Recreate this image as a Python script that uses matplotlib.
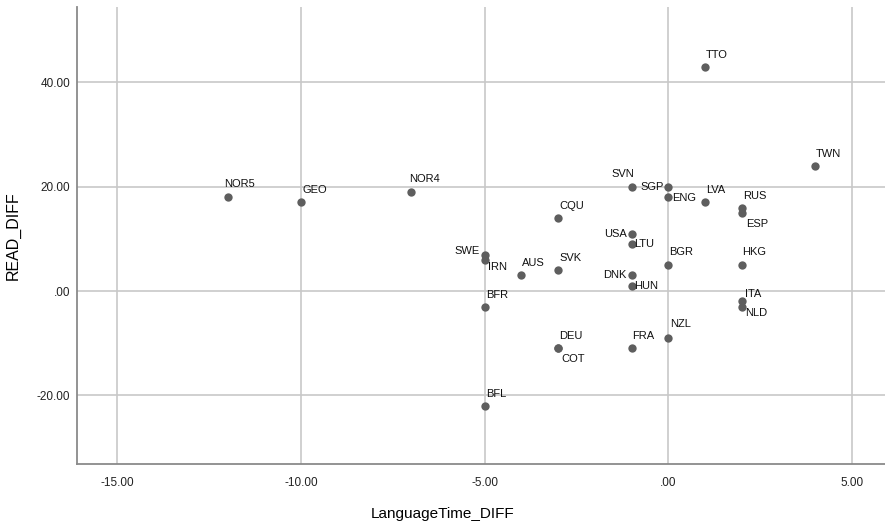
import matplotlib
matplotlib.use("Agg")
import matplotlib.pyplot as plt

plt.rcParams['font.family'] = ['Liberation Sans', 'DejaVu Sans']

# data
countries = ['NOR5', 'GEO', 'NOR4', 'TTO', 'TWN', 'SVN', 'SGP', 'ENG', 'LVA',
             'RUS', 'ESP', 'CQU', 'USA', 'LTU', 'SWE', 'IRN', 'AUS', 'SVK',
             'DNK', 'HUN', 'BGR', 'HKG', 'BFR', 'ITA', 'NLD', 'NZL', 'DEU',
             'COT', 'FRA', 'BFL']
language_time_diff = [-12, -10, -7, 1, 4, -1, 0, 0, 1,
                      2, 2, -3, -1, -1, -5, -5, -4, -3,
                      -1, -1, 0, 2, -5, 2, 2, 0, -3,
                      -3, -1, -5]
read_diff = [18, 17, 19, 43, 24, 20, 20, 18, 17,
             16, 15, 14, 11, 9, 7, 6, 3, 4,
             3, 1, 5, 5, -3, -2, -3, -9, -11,
             -11, -11, -22]

xticks = [-15, -10, -5, 0, 5]
yticks = [-20, 0, 20, 40]

# label placement (pixels): dx, dy, horizontal alignment
default_pos = (1, 12, 'left')
label_pos = {
    'NOR5': (-3, 13, 'left'), 'NOR4': (-2, 13, 'left'),
    'SVN': (-20, 13, 'left'), 'SGP': (-4, 0, 'right'),
    'ENG': (4, -1, 'left'), 'ESP': (4, -11, 'left'),
    'USA': (-5, 0, 'right'), 'LTU': (3, 0, 'left'),
    'SWE': (-5, 4, 'right'), 'IRN': (3, -7.5, 'left'),
    'DNK': (-5, 0, 'right'), 'HUN': (3, -0.5, 'left'),
    'BGR': (1, 13, 'left'), 'HKG': (0, 13, 'left'),
    'ITA': (3, 7, 'left'), 'NLD': (3, -6.5, 'left'),
    'NZL': (2, 14, 'left'), 'COT': (3, -11, 'left'),
}

def fmt(v):
    s = '%.2f' % v
    if s.startswith('0'):
        s = s[1:]
    return s

fig = plt.figure(figsize=(8.85, 5.31), dpi=100)
ax = fig.add_axes([0.087, 0.126, 0.913, 0.861])

ax.scatter(language_time_diff, read_diff, s=36, color='#5e5e5e', zorder=3,
           linewidths=0)

for name, x, y in zip(countries, language_time_diff, read_diff):
    dx, dy, ha = label_pos.get(name, default_pos)
    ax.annotate(name, (x, y), xytext=(dx * 0.72, dy * 0.72),
                textcoords='offset points', ha=ha, va='center',
                fontsize=8, color='#111111', zorder=4)

ax.set_xlim(-16.1, 5.9)
ax.set_ylim(-33.2, 54.5)
ax.set_xticks(xticks)
ax.set_yticks(yticks)
ax.set_xticklabels([fmt(v) for v in xticks])
ax.set_yticklabels([fmt(v) for v in yticks])
ax.tick_params(length=0, labelsize=8.5, colors='#222222')
ax.tick_params(axis='x', pad=9)
ax.tick_params(axis='y', pad=5)

ax.grid(True, color='#c8c8c8', linewidth=1.2, zorder=0)
ax.set_axisbelow(True)
for side in ['top', 'right']:
    ax.spines[side].set_visible(False)
for side in ['left', 'bottom']:
    ax.spines[side].set_color('#8a8a8a')
    ax.spines[side].set_linewidth(1.3)

ax.set_xlabel('LanguageTime_DIFF', fontsize=11)
ax.xaxis.set_label_coords(0.452, -0.093)
ax.set_ylabel('READ_DIFF', fontsize=11.5)
ax.yaxis.set_label_coords(-0.07, 0.5)

fig.savefig('out.png', dpi=100)
